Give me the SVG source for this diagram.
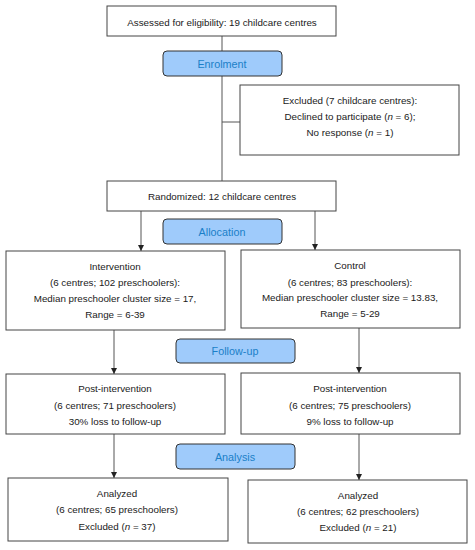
<svg xmlns="http://www.w3.org/2000/svg" width="475" height="550" viewBox="0 0 475 550">
<defs>
<marker id="ah" viewBox="0 0 8 8" refX="8" refY="4" markerWidth="6" markerHeight="6" markerUnits="userSpaceOnUse" orient="auto">
<path d="M0,0 L8,4 L0,8 z" fill="#222"/>
</marker>
<style>
.box{fill:#fff;stroke:#444;stroke-width:1}
.stage{fill:#9fcbfb;stroke:#333;stroke-width:1}
.t{font-family:"Liberation Sans",Arial,sans-serif;font-size:9.8px;fill:#1a1a1a;text-anchor:middle}
.s{font-family:"Liberation Sans",Arial,sans-serif;font-size:10.8px;fill:#1a7fc8;text-anchor:middle}
.ln{stroke:#555;stroke-width:1;fill:none}
</style>
</defs>
<rect width="475" height="550" fill="#fff"/>
<g id="connectors">
<line class="ln" x1="222" y1="36" x2="222" y2="51"/>
<line class="ln" x1="222" y1="76" x2="222" y2="181"/>
<line class="ln" x1="222" y1="122" x2="240" y2="122"/>
<line class="ln" x1="141" y1="211" x2="141" y2="251" marker-end="url(#ah)"/>
<line class="ln" x1="315" y1="211" x2="315" y2="250" marker-end="url(#ah)"/>
<line class="ln" x1="114" y1="330" x2="114" y2="374" marker-end="url(#ah)"/>
<line class="ln" x1="359" y1="328" x2="359" y2="373" marker-end="url(#ah)"/>
<line class="ln" x1="114" y1="434" x2="114" y2="478" marker-end="url(#ah)"/>
<line class="ln" x1="359" y1="434" x2="359" y2="480" marker-end="url(#ah)"/>
</g>
<g id="assessed">
<rect class="box" x="107" y="6" width="229" height="30"/>
<text class="t" x="222" y="26">Assessed for eligibility: 19 childcare centres</text>
</g>
<g id="enrolment">
<rect class="stage" x="163" y="51" width="119" height="25" rx="4"/>
<text class="s" x="222" y="68">Enrolment</text>
</g>
<g id="excluded">
<rect class="box" x="240" y="85" width="219" height="70"/>
<text class="t" x="350" y="104">Excluded (7 childcare centres):</text>
<text class="t" x="350" y="120">Declined to participate (<tspan font-style="italic">n</tspan> = 6);</text>
<text class="t" x="350" y="136">No response (<tspan font-style="italic">n</tspan> = 1)</text>
</g>
<g id="randomized">
<rect class="box" x="107" y="181" width="229" height="30"/>
<text class="t" x="222" y="200">Randomized: 12 childcare centres</text>
</g>
<g id="allocation">
<rect class="stage" x="163" y="219" width="119" height="25" rx="4"/>
<text class="s" x="222" y="236">Allocation</text>
</g>
<g id="intervention">
<rect class="box" x="6" y="251" width="219" height="79"/>
<text class="t" x="115" y="270">Intervention</text>
<text class="t" x="115" y="286">(6 centres; 102 preschoolers):</text>
<text class="t" x="115" y="302">Median preschooler cluster size = 17,</text>
<text class="t" x="115" y="318">Range = 6-39</text>
</g>
<g id="control">
<rect class="box" x="241" y="250" width="219" height="78"/>
<text class="t" x="350" y="269">Control</text>
<text class="t" x="350" y="286">(6 centres; 83 preschoolers):</text>
<text class="t" x="350" y="301">Median preschooler cluster size = 13.83,</text>
<text class="t" x="350" y="317">Range = 5-29</text>
</g>
<g id="followup">
<rect class="stage" x="176" y="339" width="119" height="24" rx="4"/>
<text class="s" x="235" y="355">Follow-up</text>
</g>
<g id="post-intervention">
<rect class="box" x="6" y="374" width="219" height="60"/>
<text class="t" x="115" y="392">Post-intervention</text>
<text class="t" x="115" y="409">(6 centres; 71 preschoolers)</text>
<text class="t" x="115" y="425">30% loss to follow-up</text>
</g>
<g id="post-control">
<rect class="box" x="241" y="373" width="219" height="61"/>
<text class="t" x="350" y="392">Post-intervention</text>
<text class="t" x="350" y="409">(6 centres; 75 preschoolers)</text>
<text class="t" x="350" y="425">9% loss to follow-up</text>
</g>
<g id="analysis">
<rect class="stage" x="176" y="444" width="119" height="25" rx="4"/>
<text class="s" x="235" y="461">Analysis</text>
</g>
<g id="analyzed-intervention">
<rect class="box" x="8" y="478" width="220" height="63"/>
<text class="t" x="117" y="497">Analyzed</text>
<text class="t" x="117" y="513">(6 centres; 65 preschoolers)</text>
<text class="t" x="117" y="530">Excluded (<tspan font-style="italic">n</tspan> = 37)</text>
</g>
<g id="analyzed-control">
<rect class="box" x="248" y="480" width="219" height="63"/>
<text class="t" x="358" y="499">Analyzed</text>
<text class="t" x="358" y="515">(6 centres; 62 preschoolers)</text>
<text class="t" x="358" y="531">Excluded (<tspan font-style="italic">n</tspan> = 21)</text>
</g>
</svg>
